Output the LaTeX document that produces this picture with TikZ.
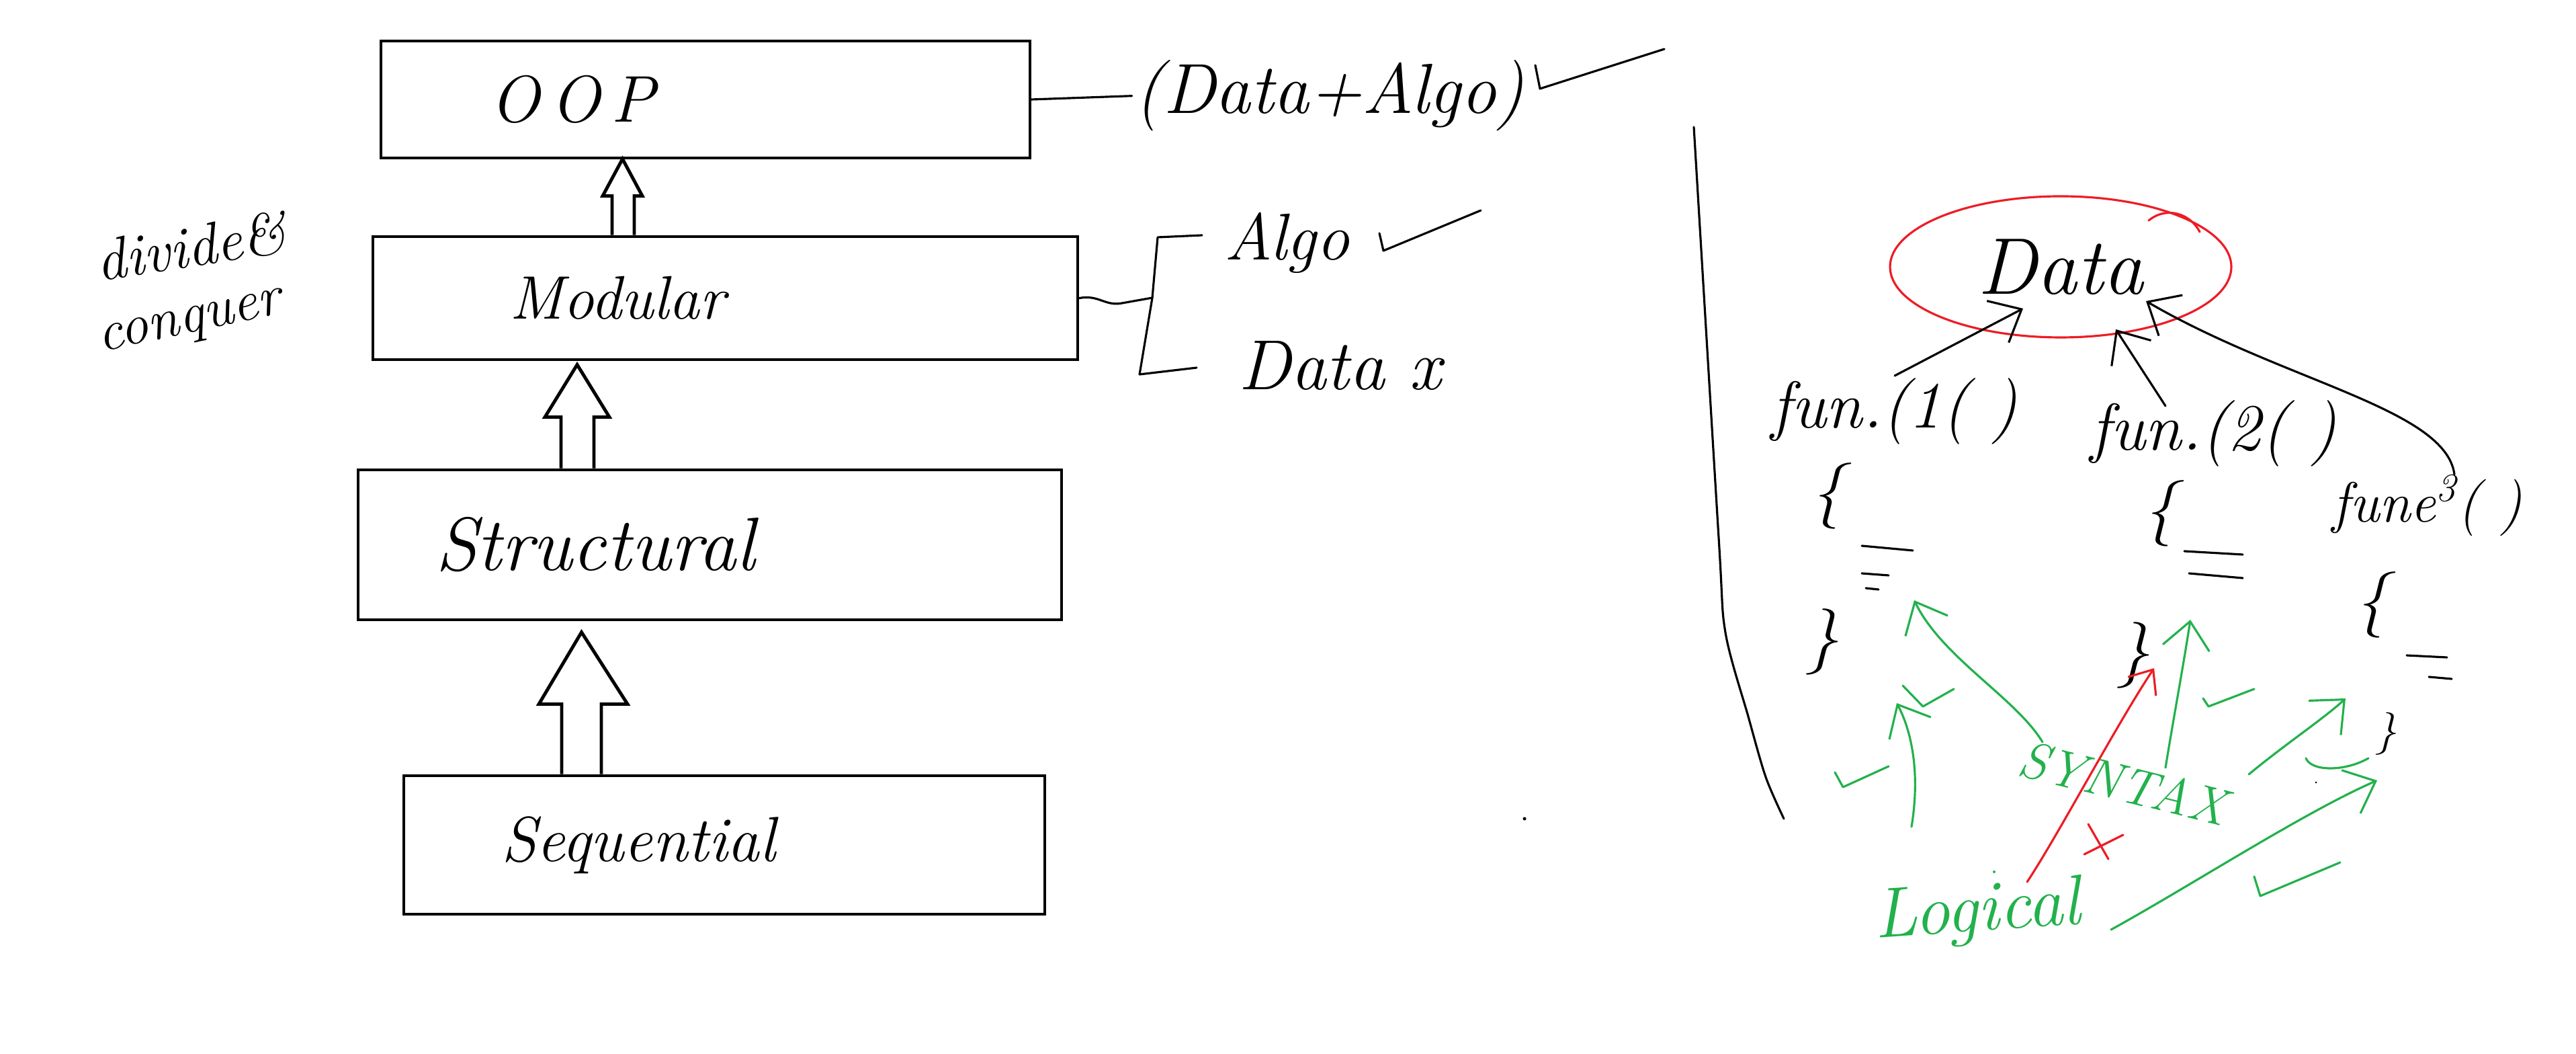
\documentclass[tikz,border=0pt]{standalone}
\usepackage{fontspec}
\usepackage{tikz}
\usetikzlibrary{arrows.meta, shapes.geometric, calc}
\definecolor{penred}{RGB}{237,28,36}
\definecolor{pengreen}{RGB}{34,177,76}

\begin{document}
\begin{tikzpicture}[
  hand/.style={font=\itshape\fontsize{#1}{#1}\selectfont, inner sep=1pt},
  hand/.default=28,
  box/.style={draw, line width=1.4pt, align=left},
  hollow/.style={line width=1.4pt},
  pen/.style={line width=0.9pt, line cap=round, line join=round},
  barb/.style={-{Straight Barb[length=4mm, width=7mm]}}
]
  % Page
  \path[fill=white, use as bounding box] (0,0) rectangle (38.34,15.68);

  % Boxes
  \node[box, hand=28, text width=6.42cm, inner xsep=1.62cm, minimum height=1.74cm] (oop) at (10.50,14.20) {O\,O\,P};
  \node[box, hand=26, text width=6.43cm, inner xsep=2.03cm, minimum height=1.83cm] (mod) at (10.795,11.245) {Modular};
  \node[box, hand=32, text width=8.17cm, inner xsep=1.15cm, minimum height=2.23cm] (struc) at (10.565,7.575) {Structural};
  \node[box, hand=27, text width=6.64cm, inner xsep=1.45cm, minimum height=2.06cm] (seq) at (10.78,3.11) {Sequential};

  % Block arrows
  \draw[hollow] ($(seq.north)+(-2.42,0)$) -- ++(0,1.04) -- ++(-0.34,0) -- ++(0.635,1.07)
    -- ++(0.685,-1.07) -- ++(-0.39,0) -- ++(0,-1.04);
  \draw[hollow] ($(struc.north)+(-2.215,0)$) -- ++(0,0.76) -- ++(-0.24,0) -- ++(0.48,0.78)
    -- ++(0.48,-0.78) -- ++(-0.23,0) -- ++(0,-0.76);
  \draw[hollow] ($(mod.north)+(-1.685,0)$) -- ++(0,0.58) -- ++(-0.14,0) -- ++(0.295,0.55)
    -- ++(0.295,-0.55) -- ++(-0.12,0) -- ++(0,-0.58);

  % Divide and conquer
  \node[hand=25, rotate=9] (divide) at (2.84,12.02) {divide\&};
  \node[hand=24, rotate=12] (conquer) at (2.84,10.84) {conquer};

  % OOP note
  \node[hand=30, anchor=base] (oopnote) at (19.79,13.99) {(Data+Algo)};
  \draw[pen] (oop.east) -- (oopnote.west);
  \draw[pen] (22.85,14.71) -- (22.92,14.36) -- (24.77,14.95);

  % Modular note
  \node[hand=28, anchor=base west] (algo) at (18.18,11.81) {Algo};
  \node[hand=30, anchor=base west] (datax) at (18.39,9.88) {Data x};
  \draw[pen] (mod.east) .. controls (16.35,11.30) and (16.45,11.12) .. (16.7,11.17) -- (17.15,11.25);
  \draw[pen] (17.89,12.18) -- (17.23,12.15) -- (17.15,11.25) -- (16.96,10.11) -- (17.81,10.21);
  \draw[pen] (20.53,12.21) -- (20.59,11.95) -- (22.04,12.55);

  % Divider
  \draw[pen] plot[smooth] coordinates {(25.21,13.79) (25.58,7.68) (25.68,6.27) (26.02,5.02) (26.28,4.12) (26.55,3.50)};
  \fill (22.69,3.50) circle (0.025);

  % Data and functions
  \node[ellipse, draw=penred, pen, minimum width=5.08cm, minimum height=2.1cm, hand=34] (data) at (30.67,11.71) {Data};
  \draw[pen, penred] (31.98,12.40) .. controls (32.25,12.62) and (32.6,12.5) .. (32.74,12.23);
  \node[hand=28, anchor=base] (fun1) at (28.20,9.31) {fun.(1( )};
  \node[hand=28, anchor=base] (fun2) at (32.95,8.98) {fun.(2( )};
  \node[hand=24, anchor=base] (fun3) at (36.13,7.91) {fune\textsuperscript{3}( )};
  \draw[pen, barb] (fun1.north) -- ($(data.center)+(-0.56,-0.62)$);
  \draw[pen, barb] ($(fun2.north)+(-0.72,-0.12)$) -- ($(data.center)+(0.82,-0.93)$);
  \draw[pen, barb] ($(fun3.north)+(0.40,-0.04)$) .. controls (36.4,9.6) and (34.0,10.0) .. ($(data.center)+(1.27,-0.51)$);

  % Bodies
  \node[hand=28] (ob1) at (27.20,8.30) {\{};
  \node[hand=28] (ob2) at (32.15,8.04) {\{};
  \node[hand=28] (ob3) at (35.30,6.68) {\{};
  \node[hand=28] (cb1) at (27.12,6.13) {\}};
  \node[hand=28] (cb2) at (31.75,5.93) {\}};
  \node[hand=18] (cb3) at (35.51,4.76) {\}};
  \draw[pen] (27.71,7.56) -- (28.47,7.49) (27.71,7.15) -- (28.11,7.12) (27.77,6.93) -- (27.96,6.91);
  \draw[pen] (32.51,7.48) -- (33.38,7.43) (32.58,7.15) -- (33.38,7.08);
  \draw[pen] (35.82,5.93) -- (36.42,5.90) (36.15,5.61) -- (36.49,5.58);
  \fill (34.47,4.04) circle (0.015);

  % Syntax and logical
  \node[hand=22, text=pengreen, rotate=-14] (syntax) at (31.60,4.03) {SYNTAX};
  \node[hand=30, text=pengreen, rotate=4, anchor=base] (logical) at (29.45,1.83) {Logical};
  \coordinate (g1tip) at (28.49,6.75);
  \coordinate (g2tip) at (28.23,5.22);
  \coordinate (g3tip) at (32.60,6.46);
  \coordinate (g4tip) at (34.91,5.29);
  \coordinate (g5tip) at (35.38,4.07);
  \coordinate (rtip) at (32.06,5.74);
  \draw[pen, pengreen, barb] ($(syntax.center)+(-1.20,0.61)$) .. controls (30.0,5.3) and (28.9,5.9) .. (g1tip);
  \draw[pen, pengreen, barb] ($(logical.base)+(-1.00,1.55)$) .. controls (28.6,4.3) and (28.4,4.9) .. (g2tip);
  \draw[pen, pengreen, barb] ($(syntax.center)+(0.63,0.23)$) .. controls (32.35,5.0) and (32.5,5.8) .. (g3tip);
  \draw[pen, pengreen, barb] ($(syntax.center)+(1.87,0.13)$) .. controls (34.0,4.6) and (34.6,5.0) .. (g4tip);
  \draw[pen, pengreen, barb] ($(logical.base)+(1.97,0.02)$) .. controls (32.6,2.5) and (34.3,3.6) .. (g5tip);
  \draw[pen, pengreen] (28.32,5.48) -- (28.62,5.17) -- (29.08,5.43);
  \draw[pen, pengreen] (27.31,4.19) -- (27.43,3.97) -- (28.11,4.28);
  \draw[pen, pengreen] (32.79,5.29) -- (32.87,5.17) -- (33.55,5.43);
  \draw[pen, pengreen] (34.32,4.40) .. controls (34.4,4.2) and (34.9,4.2) .. (35.25,4.40);
  \draw[pen, pengreen] (33.55,2.64) -- (33.64,2.35) -- (34.83,2.85);
  \fill[pengreen] (29.68,2.71) circle (0.02);

  % Red marks
  \draw[pen, penred, -{Straight Barb[length=3mm, width=5mm]}] ($(logical.base)+(0.72,0.73)$) .. controls (30.6,3.2) and (31.5,4.9) .. (rtip);
  \draw[pen, penred] (31.08,3.42) -- (31.38,2.90) (31.60,3.26) -- (31.02,2.97);
\end{tikzpicture}
\end{document}
